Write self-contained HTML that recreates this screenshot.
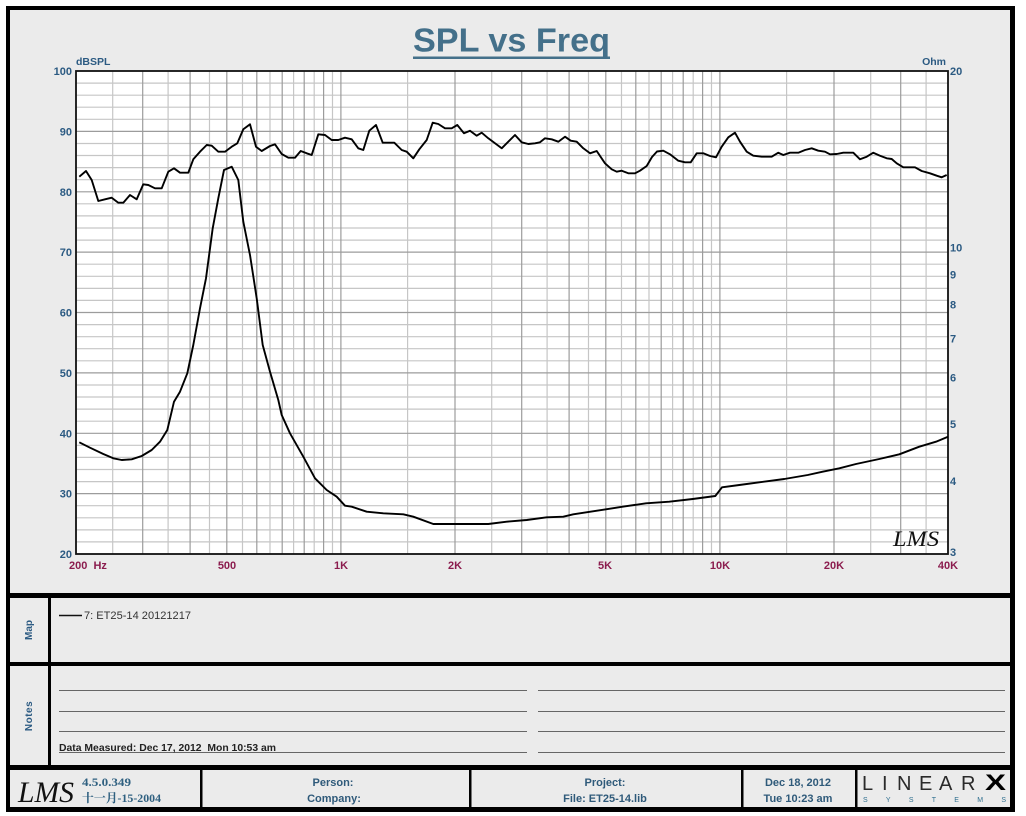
<!DOCTYPE html>
<html><head><meta charset="utf-8"><style>
html,body{margin:0;padding:0;background:#fff;}
svg{display:block;}
text{font-family:"Liberation Sans",Arial,sans-serif;}
</style></head><body>
<svg width="1026" height="816" viewBox="0 0 1026 816" xmlns="http://www.w3.org/2000/svg">
<rect x="0" y="0" width="1026" height="816" fill="#fff"/>
<!-- outer frame -->
<rect x="6" y="6" width="1009" height="806" fill="#000"/>
<rect x="10" y="10" width="1000" height="797" fill="#ebebeb"/>
<!-- dividers -->
<rect x="6" y="593" width="1009" height="5" fill="#000"/>
<rect x="6" y="662" width="1009" height="4" fill="#000"/>
<rect x="6" y="765" width="1009" height="5" fill="#000"/>
<rect x="48" y="598" width="3" height="167" fill="#000"/>
<rect x="200" y="770" width="2.5" height="37" fill="#000"/>
<rect x="469" y="770" width="2.5" height="37" fill="#000"/>
<rect x="741" y="770" width="2.5" height="37" fill="#000"/>
<rect x="855" y="770" width="2.5" height="37" fill="#000"/>

<!-- title -->
<text x="413" y="51.5" font-size="33" font-weight="bold" fill="#44708a" textLength="197" lengthAdjust="spacingAndGlyphs">SPL vs Freq</text>
<rect x="413" y="56.5" width="197" height="2.5" fill="#44708a"/>

<!-- plot area -->
<rect x="76" y="71" width="872" height="483" fill="#fff"/>
<g fill="none" stroke="#c6c6c6" stroke-width="1.2">
<path d="M76 83.1H948M76 95.2H948M76 107.2H948M76 119.3H948M76 143.5H948M76 155.5H948M76 167.6H948M76 179.7H948M76 203.8H948M76 215.9H948M76 228H948M76 240.1H948M76 264.2H948M76 276.3H948M76 288.4H948M76 300.4H948M76 324.6H948M76 336.7H948M76 348.7H948M76 360.8H948M76 385H948M76 397H948M76 409.1H948M76 421.2H948M76 445.3H948M76 457.4H948M76 469.5H948M76 481.6H948M76 505.7H948M76 517.8H948M76 529.9H948M76 541.9H948"/>
<path d="M112.7 71V554M168.1 71V554M209.5 71V554M242.5 71V554M270 71V554M293.6 71V554M314.2 71V554M332.5 71V554M407.6 71V554M491.7 71V554M547.1 71V554M588.5 71V554M621.5 71V554M649 71V554M672.6 71V554M693.2 71V554M711.5 71V554M786.6 71V554M870.7 71V554M926.1 71V554"/>
</g>
<g fill="none" stroke="#9c9c9c" stroke-width="1.2">
<path d="M76 131.4H948M76 191.8H948M76 252.1H948M76 312.5H948M76 372.9H948M76 433.3H948M76 493.6H948"/>
<path d="M142.7 71V554M190.1 71V554M226.8 71V554M256.8 71V554M282.2 71V554M304.2 71V554M323.6 71V554M340.9 71V554M455 71V554M521.7 71V554M569.1 71V554M605.8 71V554M635.8 71V554M661.2 71V554M683.2 71V554M702.6 71V554M719.9 71V554M834 71V554M900.7 71V554"/>
</g>
<rect x="76" y="71" width="872" height="483" fill="none" stroke="#111" stroke-width="1.8"/>

<!-- SPL curve -->
<polyline fill="none" stroke="#000" stroke-width="1.9" stroke-linejoin="round" points="79.3,176.7 86,171 91.7,180 98.3,201 105,199.3 111.7,197.7 118.3,202.7 123.3,202.7 130,195 136.7,199.3 143.3,184.3 148.3,185 155,188.3 161.7,188.3 168.3,171.7 174,168.3 180,172.7 188.3,172.7 193.3,159.3 200,151.7 206.7,145 211.7,145.7 218.3,151.7 225,151.7 231.7,146.7 237.3,143.3 243.3,129.3 250,124.3 256,146.7 261.7,151 270,146 275,144.3 281.7,154 288.3,157.7 295,157.7 300.7,151 306.7,153.3 311.7,155 318.3,134.3 325,135 331.7,140 338.3,140 345,137.7 351.7,139.3 358.3,148.3 363.3,150 369.3,130.7 376,125 382.7,142.7 394.3,142.7 401.7,150 406.7,151.7 413.3,158.3 419.3,149.3 426.7,140 432.7,122.7 438.3,124 445,128.3 451.7,128.3 457.3,125 464,133.3 470,130.7 476.7,135.7 481.7,132.7 488.3,138.3 495,143.3 501.7,148.3 508.3,141.7 515,135 521.7,142.3 528.3,144 535,143.3 540,142.3 545,138.3 551.7,139.3 558.3,141.7 565,136.7 570.7,140.7 576.7,141.7 583.3,148.3 590,153.3 596.7,151 605,163.3 611.7,169.3 616.7,171.7 621.7,170.7 628.3,173.3 635,173.3 640,170.7 646.7,166 652,157 657,151.5 663.3,150.7 670,154.3 678.3,160.7 685,162.3 690.7,162.3 696.7,153.3 703.3,153.3 710,156 716,157.3 721.7,146.7 728.3,137.3 735,132.7 740,141.7 746.7,151.7 753.3,155.7 761.7,156.7 771.7,156.7 778.3,152.7 783.3,155 790,152.7 798.3,152.7 805,150 811.7,148.3 818.3,150.7 825,151.7 830,154.3 836.7,154 843.3,152.7 853.3,152.7 860,159.3 866.7,156.7 873.3,152.7 880,155.7 886.7,158.3 891.7,159 896.7,163.3 903.3,167.3 915,167.3 921.7,171 930,173.3 936.7,175.7 941.7,177.3 946.7,175"/>
<!-- Impedance curve -->
<polyline fill="none" stroke="#000" stroke-width="1.9" stroke-linejoin="round" points="79.3,442.3 90,447.7 103.3,454 113.3,458.3 121.7,460 131.7,459.3 141.7,456 151.7,450 160,441.7 167.3,430 174,401.7 180,391.7 187.3,373.3 193.3,345 200,308.3 206,278.3 212.7,228.3 218.3,198.3 224,170 231.7,166.7 238.3,180 243.3,221.7 250,255 256.7,298.3 262.7,345 270,371.7 278.3,400 281.7,415 290,433.3 303.3,456.7 315,478.3 326.7,490 336.7,496.7 345,505.7 351.7,506.7 366.7,511.7 383.3,513.3 403.3,514.3 413.3,516.7 433.3,524 456.7,524 488.3,524 506.7,521.7 526.7,520 546.7,517.3 563.3,516.7 573.3,514.3 606,509.3 622.7,506.7 646,503.3 669.3,501.7 692.7,499 715.3,496 722,487.3 739.3,485 759.3,482.3 784.3,479 807.7,475 822.7,471.7 839.3,468.3 856,464 879.3,459 899.3,454.3 919.3,446.7 936,441.7 948,436.7"/>

<!-- LMS signature in plot -->
<text x="893" y="546" font-style="italic" font-size="22" fill="#111" textLength="46" lengthAdjust="spacingAndGlyphs" style="font-family:'Liberation Serif',serif">LMS</text>

<!-- left axis labels -->
<g font-size="11" font-weight="bold" fill="#2b5a82" text-anchor="end">
<text x="72" y="75">100</text>
<text x="72" y="135.4">90</text>
<text x="72" y="195.8">80</text>
<text x="72" y="256.1">70</text>
<text x="72" y="316.5">60</text>
<text x="72" y="376.9">50</text>
<text x="72" y="437.3">40</text>
<text x="72" y="497.6">30</text>
<text x="72" y="558">20</text>
</g>
<text x="76" y="65" font-size="10.5" font-weight="bold" fill="#2b5a82">dBSPL</text>
<text x="946" y="65" font-size="10.5" font-weight="bold" fill="#2b5a82" text-anchor="end">Ohm</text>
<!-- right axis labels -->
<g font-size="11" font-weight="bold" fill="#2b5a82">
<text x="950" y="75">20</text>
<text x="950" y="251.5">10</text>
<text x="950" y="278.3">9</text>
<text x="950" y="308.3">8</text>
<text x="950" y="342.3">7</text>
<text x="950" y="381.5">6</text>
<text x="950" y="427.9">5</text>
<text x="950" y="484.8">4</text>
<text x="950" y="556">3</text>
</g>
<!-- frequency labels -->
<g font-size="11" font-weight="bold" fill="#8b1c4e" text-anchor="middle">
<text x="227" y="569">500</text>
<text x="341" y="569">1K</text>
<text x="455" y="569">2K</text>
<text x="605" y="569">5K</text>
<text x="720" y="569">10K</text>
<text x="834" y="569">20K</text>
<text x="948" y="569">40K</text>
</g>
<text x="69" y="569" font-size="11" font-weight="bold" fill="#8b1c4e" xml:space="preserve">200  Hz</text>

<!-- Map panel -->
<text transform="translate(32,630) rotate(-90)" font-size="10" font-weight="bold" fill="#2b5a82" text-anchor="middle">Map</text>
<line x1="59" y1="615.5" x2="82" y2="615.5" stroke="#111" stroke-width="1.5"/>
<text x="84" y="619" font-size="11" fill="#333" textLength="107" lengthAdjust="spacingAndGlyphs">7: ET25-14 20121217</text>

<!-- Notes panel -->
<text transform="translate(32,716) rotate(-90)" font-size="10" font-weight="bold" fill="#2b5a82" text-anchor="middle" letter-spacing="0.5">Notes</text>
<g stroke="#666" stroke-width="1">
<line x1="59" y1="690.5" x2="527" y2="690.5"/>
<line x1="59" y1="711.5" x2="527" y2="711.5"/>
<line x1="59" y1="731.5" x2="527" y2="731.5"/>
<line x1="59" y1="752.5" x2="527" y2="752.5"/>
<line x1="538" y1="690.5" x2="1005" y2="690.5"/>
<line x1="538" y1="711.5" x2="1005" y2="711.5"/>
<line x1="538" y1="731.5" x2="1005" y2="731.5"/>
<line x1="538" y1="752.5" x2="1005" y2="752.5"/>
</g>
<text x="59" y="751" font-size="10.5" font-weight="bold" fill="#222" textLength="217" lengthAdjust="spacingAndGlyphs" xml:space="preserve">Data Measured: Dec 17, 2012  Mon 10:53 am</text>

<!-- footer -->
<text x="18" y="802" font-style="italic" font-size="30" fill="#111" textLength="56" lengthAdjust="spacingAndGlyphs" style="font-family:'Liberation Serif',serif">LMS</text>
<text x="82" y="786" font-size="12" font-weight="bold" fill="#2f6080" style="font-family:'Liberation Serif',serif" textLength="49" lengthAdjust="spacingAndGlyphs">4.5.0.349</text>
<text x="82" y="802" font-size="12" font-weight="bold" fill="#2f6080" style="font-family:'Liberation Serif','Noto Serif CJK SC',serif" textLength="79" lengthAdjust="spacingAndGlyphs">十一月-15-2004</text>
<g font-size="11" font-weight="bold" fill="#2f5a7a" text-anchor="middle">
<text x="333" y="786">Person:</text>
<text x="334" y="802">Company:</text>
<text x="605" y="786">Project:</text>
<text x="605" y="802">File: ET25-14.lib</text>
<text x="798" y="786">Dec 18, 2012</text>
<text x="798" y="802">Tue 10:23 am</text>
</g>
<!-- LINEARX logo -->
<g font-size="20" fill="#2a2a2a" style="font-family:'Liberation Serif',serif">
<text x="862" y="790">L</text>
<text x="882" y="790">I</text>
<text x="897" y="790">N</text>
<text x="919" y="790">E</text>
<text x="939" y="790">A</text>
<text x="961" y="790">R</text>
</g>
<text x="985" y="790" font-size="22" font-weight="bold" fill="#000" style="font-family:'Liberation Sans',sans-serif" textLength="21" lengthAdjust="spacingAndGlyphs">X</text>
<text x="863" y="802" font-size="7" fill="#2f6f8f" textLength="143" lengthAdjust="spacing">SYSTEMS</text>
</svg>
</body></html>
